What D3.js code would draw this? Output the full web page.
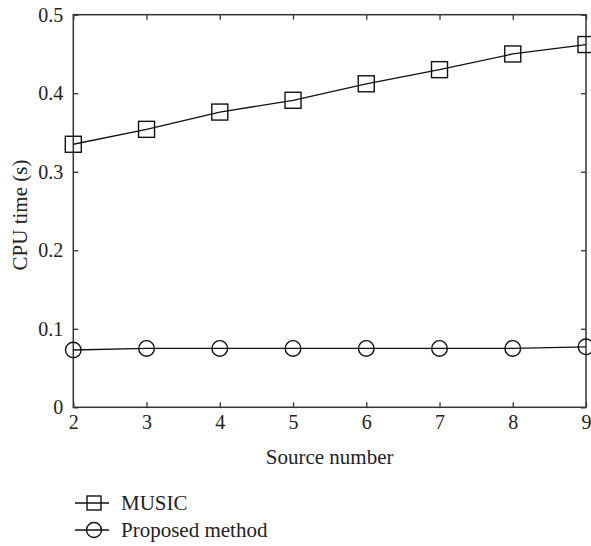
<!DOCTYPE html>
<html>
<head>
<meta charset="utf-8">
<script src="https://cdn.jsdelivr.net/npm/d3@7"></script>
<style>
  body { margin: 0; background: #fff; }
  text { font-family: "Liberation Serif", "DejaVu Serif", serif; fill: #222; }
</style>
</head>
<body>
<div id="wrapper"></div>
<script>
// data
const sourceNumber = [2, 3, 4, 5, 6, 7, 8, 9]
const musicTime = [0.335, 0.354, 0.376, 0.391, 0.412, 0.430, 0.450, 0.462]
const proposedTime = [0.073, 0.075, 0.075, 0.075, 0.075, 0.075, 0.075, 0.077]
const yTicks = [0, 0.1, 0.2, 0.3, 0.4, 0.5]
const seriesNames = ["MUSIC", "Proposed method"]

const W = 591, H = 546
const margin = {top: 14.7, right: 5, bottom: 138.7, left: 73.3}
const width = W - margin.left - margin.right,
    height = H - margin.top - margin.bottom
const fontSize = 20

const svg = d3.select("#wrapper")
    .append("svg")
    .attr("width", W)
    .attr("height", H)
    .attr("font-family", "Liberation Serif")

const g = svg.append("g")
    .attr("transform", `translate(${margin.left},${margin.top})`)

const x = d3.scaleLinear().domain([2, 9]).range([0, width])
const y = d3.scaleLinear().domain([0, 0.5]).range([height, 0])

const axisColor = "#333"
const tickLen = 5

// axes with inward ticks
const xAxis = g.append("g")
    .attr("transform", `translate(0,${height})`)
    .call(d3.axisBottom(x).tickValues(sourceNumber).tickFormat(d3.format("d")).tickSizeInner(-tickLen).tickSizeOuter(0).tickPadding(8))
xAxis.selectAll("text").attr("font-size", fontSize).attr("font-family", "Liberation Serif").attr("fill", "#222")

const yAxis = g.append("g")
    .call(d3.axisLeft(y).tickValues(yTicks).tickFormat(d => d === 0 ? "0" : d3.format(".1f")(d)).tickSizeInner(-tickLen).tickSizeOuter(0).tickPadding(10))
yAxis.selectAll("text").attr("font-size", fontSize).attr("font-family", "Liberation Serif").attr("fill", "#222")

// top and right ticks, no labels
g.append("g")
    .call(d3.axisTop(x).tickValues(sourceNumber).tickFormat("").tickSizeInner(-tickLen).tickSizeOuter(0))
g.append("g")
    .attr("transform", `translate(${width},0)`)
    .call(d3.axisRight(y).tickValues(yTicks).tickFormat("").tickSizeInner(-tickLen).tickSizeOuter(0))

g.selectAll(".domain").attr("stroke", "none")
g.selectAll(".tick line").attr("stroke", axisColor).attr("stroke-width", 1.3)

g.append("rect")
    .attr("width", width)
    .attr("height", height)
    .attr("fill", "none")
    .attr("stroke", axisColor)
    .attr("stroke-width", 1.5)

// lines
const line = d3.line()
    .x((d, i) => x(sourceNumber[i]))
    .y(d => y(d))

g.append("path").datum(musicTime)
    .attr("d", line).attr("fill", "none").attr("stroke", "#111").attr("stroke-width", 1.3)
g.append("path").datum(proposedTime)
    .attr("d", line).attr("fill", "none").attr("stroke", "#111").attr("stroke-width", 1.3)

const sq = 16
g.selectAll(".sq").data(musicTime).enter().append("rect")
    .attr("x", (d, i) => x(sourceNumber[i]) - sq / 2)
    .attr("y", d => y(d) - sq / 2)
    .attr("width", sq).attr("height", sq)
    .attr("fill", "none").attr("stroke", "#111").attr("stroke-width", 1.4)

g.selectAll(".ci").data(proposedTime).enter().append("circle")
    .attr("cx", (d, i) => x(sourceNumber[i]))
    .attr("cy", d => y(d))
    .attr("r", 7.8)
    .attr("fill", "none").attr("stroke", "#111").attr("stroke-width", 1.4)

// axis titles
svg.append("text")
    .attr("x", margin.left + width / 2)
    .attr("y", 464)
    .attr("text-anchor", "middle")
    .attr("font-size", 21)
    .text("Source number")

svg.append("text")
    .attr("transform", `translate(27,215) rotate(-90)`)
    .attr("text-anchor", "middle")
    .attr("font-size", 21)
    .text("CPU time (s)")

// legend
const legend = svg.append("g").attr("transform", "translate(75,503)")
seriesNames.forEach(function(name, i) {
    const row = legend.append("g").attr("transform", `translate(0,${i * 27})`)
    row.append("line").attr("x1", 0).attr("x2", 34).attr("y1", 0).attr("y2", 0)
        .attr("stroke", "#111").attr("stroke-width", 1.3)
    if (i === 0) {
        row.append("rect").attr("x", 19 - 7).attr("y", -7).attr("width", 14).attr("height", 14)
            .attr("fill", "none").attr("stroke", "#111").attr("stroke-width", 1.4)
    } else {
        row.append("circle").attr("cx", 19).attr("cy", 0).attr("r", 7.5)
            .attr("fill", "none").attr("stroke", "#111").attr("stroke-width", 1.4)
    }
    row.append("text").attr("x", 46).attr("y", 0).attr("dy", "0.35em")
        .attr("font-size", 21).text(name)
})
</script>
</body>
</html>
